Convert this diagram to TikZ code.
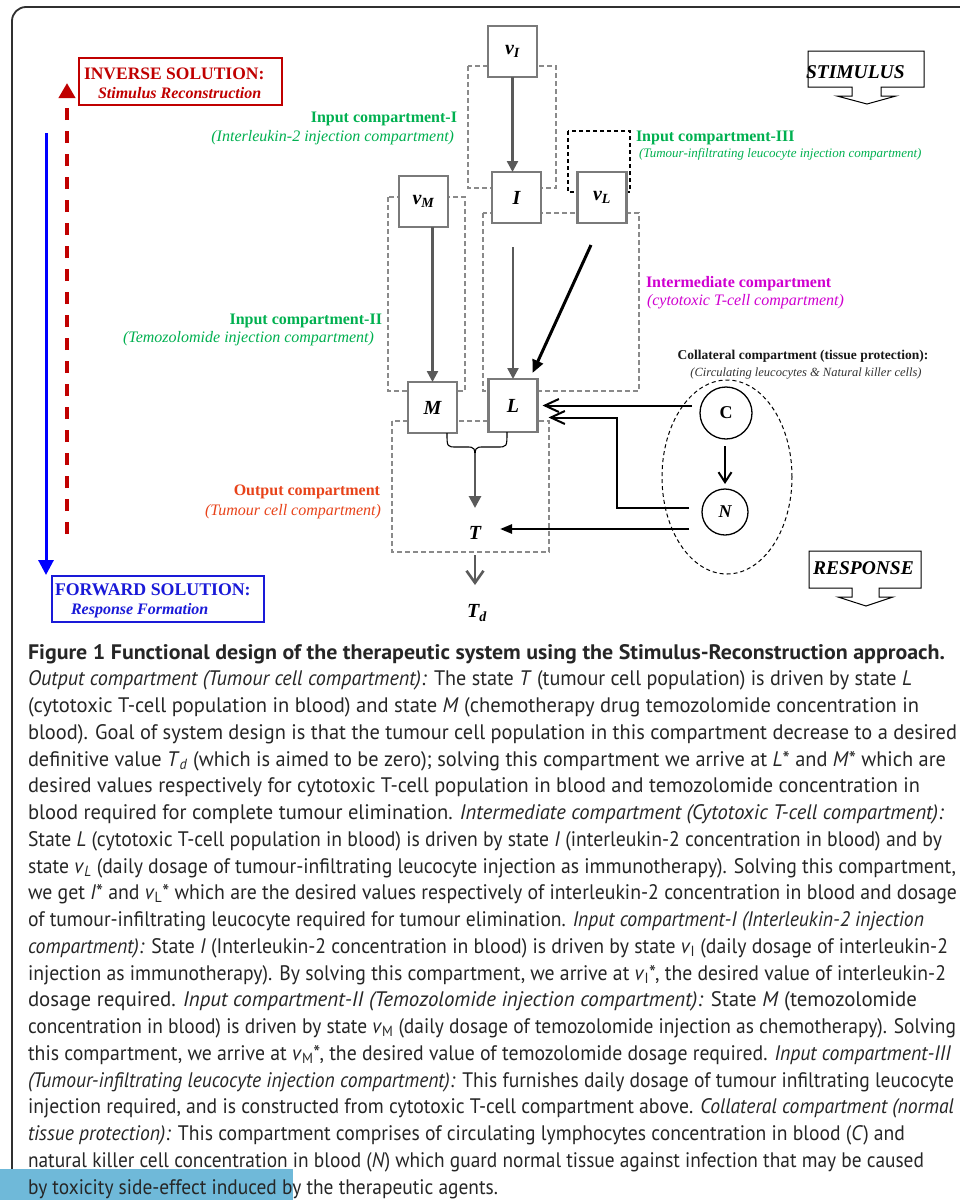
\documentclass[tikz,border=0pt]{standalone}
\usepackage{fontspec}
\usepackage{graphicx}
\setmainfont{Liberation Serif}
\newfontfamily\capfont{PT Sans}
\usetikzlibrary{arrows.meta,calc,shapes.geometric}
\definecolor{cgreen}{HTML}{00B050}
\definecolor{cmag}{HTML}{D000D0}
\definecolor{corange}{HTML}{E8431A}
\definecolor{cred}{HTML}{C00000}
\definecolor{cblue}{HTML}{0000FF}
\definecolor{cblue2}{HTML}{1A1AD8}
\definecolor{boxgray}{HTML}{7A7A7A}
\definecolor{arrgray}{HTML}{5A5A5A}
\definecolor{dashgray}{HTML}{8A8A8A}
\definecolor{hl}{HTML}{6FB9D9}
\definecolor{captext}{HTML}{262626}
\definecolor{framec}{HTML}{303030}
\newcommand{\fs}[1]{\fontsize{#1}{#1}\selectfont}
\newcommand{\capline}[3]{\node[capnode] (cap#1) at (28,{659+26.75*(#1-1)}) {\resizebox{#2pt}{\height}{#3}};}
\begin{document}
\begin{tikzpicture}[x=1pt,y=-1pt,
  box/.style={draw=boxgray, line width=2.4pt, fill=white, minimum width=49pt, minimum height=51pt, inner sep=0pt, outer sep=0pt, font=\fs{20}\bfseries\itshape},
  comp/.style={draw=dashgray, line width=1.4pt, dash pattern=on 5pt off 3pt},
  garrow/.style={draw=arrgray, line width=2.4pt, -{Triangle[length=11pt,width=11pt]}},
  barrow/.style={draw=black, line width=3pt, -{Triangle[length=13pt,width=11pt]}},
  obarb/.style={draw=black, line width=2pt, -{Straight Barb[length=14pt,width=13pt]}},
  cbarb/.style={draw=black, line width=2pt, -{Straight Barb[length=10pt,width=13pt]}},
  tarrow/.style={draw=black, line width=2.5pt, -{Triangle[length=12pt,width=9pt]}},
  gbarb/.style={draw=arrgray, line width=2.6pt, -{Straight Barb[length=12pt,width=17pt]}},
  lbl/.style={inner sep=0pt, outer sep=0pt},
  capnode/.style={anchor=base west, inner sep=0pt, outer sep=0pt, font=\capfont\fs{21}, text=captext},
  circ/.style={circle, draw=black, line width=1.3pt, inner sep=0pt, outer sep=0pt, fill=white}
]
\useasboundingbox (0,0) rectangle (959,1200);
\fill[white] (0,0) rectangle (959,1200);
% frame
\draw[framec, line width=1.8pt, rounded corners=14pt] (12,1205) -- (12,7) -- (965,7);

% left arrows and boxes
\coordinate (r1) at (67,534);
\coordinate (r2) at (67,83);
\draw[cred, line width=4pt, dash pattern=on 12pt off 11pt, -{Triangle[length=15pt,width=16pt]}] (r1) -- (r2);
\coordinate (b1) at (46,133);
\coordinate (b2) at (46,575);
\draw[cblue, line width=3pt, -{Triangle[length=15pt,width=15pt]}] (b1) -- (b2);
\draw[cred, line width=2pt] (79,58) rectangle (282,105);
\node[lbl, anchor=base west, text=cred, font=\fs{17.5}\bfseries] (inv1) at (84,79) {INVERSE SOLUTION:};
\node[lbl, anchor=base west, text=cred, font=\fs{16}\bfseries\itshape] (inv2) at (98,98.5) {Stimulus Reconstruction};
\draw[cblue2, line width=2pt] (52,576) rectangle (264,622);
\node[lbl, anchor=base west, text=cblue2, font=\fs{17.8}\bfseries] (fw1) at (55,595) {FORWARD SOLUTION:};
\node[lbl, anchor=base west, text=cblue2, font=\fs{16}\bfseries\itshape] (fw2) at (71,614.5) {Response Formation};

% compartments
\draw[comp] (468,66) rectangle (556,188);
\draw[comp] (388,197) rectangle (465,391);
\draw[comp] (483,213) rectangle (639,391);
\draw[comp] (392,421) rectangle (549,552);
\draw[black, line width=1.5pt, dash pattern=on 4pt off 3pt] (568,131) rectangle (630,192);

% state boxes
\node[box] (vI) at (512.5,51.5) {v\textsubscript{I}};
\node[box] (I) at (516.5,197.5) {I};
\node[box] (vL) at (602,197.5) {v\textsubscript{L}};
\node[box] (vM) at (423.5,201.5) {v\textsubscript{M}};
\node[box] (M) at (432.5,407.5) {M};
\node[box, minimum height=53pt] (L) at (513,405.5) {L};
\node[lbl, font=\fs{20}\bfseries\itshape] (T) at (475,533) {T};
\node[lbl, font=\fs{20}\bfseries\itshape] (Td) at (477,613) {T\textsubscript{d}};

% arrows in main column
\draw[garrow] (vI.south) -- (vI.south |- I.north);
\draw[garrow] ($(L.north |- I.south)+(0,24)$) -- (L.north);
\draw[garrow] (M.north |- vM.south) -- (M.north);
\draw[barrow] ($(vL.south)+(-11,22)$) -- ($(L.north east)+(-5,-6)$);
\coordinate (bt) at (475,462);
\draw[black, line width=1.1pt] ($(M.south east)+(-10,0)$) .. controls (447,447) .. (457,447) -- (466,447) .. controls (475,447) .. (bt) .. controls (475,447) .. (484,447) -- (497,447) .. controls (507,447) .. ($(L.south)+(-6,0)$);
\draw[garrow, line width=2.8pt, -{Triangle[length=12pt,width=12pt]}] (bt) -- ($(T.center)+(0,-25)$);
\draw[gbarb] ($(T.center)+(0,22)$) -- ($(Td.center)+(-2,-28)$);

% collateral compartment
\node[ellipse, draw=black, line width=1pt, dash pattern=on 4pt off 3pt, minimum width=130pt, minimum height=194pt, inner sep=0pt] (coll) at (727,477) {};
\node[circ, minimum size=52pt, font=\fs{18}\bfseries] (C) at (726,413) {C};
\node[circ, minimum size=46pt, font=\fs{18}\bfseries\itshape] (N) at (725,512) {N};
\draw[cbarb] ($(N.north |- C.south)+(0,7)$) -- ($(N.north)+(0,-5)$);
\draw[obarb] ($(L.east -| C.west)+(-8,0)$) -- ($(L.east)+(5,0)$);
\draw[obarb] ($(N.west)+(-13,-4)$) -- ++(-72,0) |- ($(L.east)+(11,12)$);
\draw[tarrow] ($(N.west)+(-13,17)$) -- ($(T.center)+(25,-4)$);

% compartment labels
\node[lbl, anchor=base east, text=cgreen, font=\fs{16}\bfseries] (l1a) at (457,122.5) {Input compartment-I};
\node[lbl, anchor=base east, text=cgreen, font=\fs{16}\itshape] (l1b) at (454,141.5) {(Interleukin-2 injection compartment)};
\node[lbl, anchor=base east, text=cgreen, font=\fs{16}\bfseries] (l2a) at (382,324.5) {Input compartment-II};
\node[lbl, anchor=base east, text=cgreen, font=\fs{16}\itshape] (l2b) at (374,342.5) {(Temozolomide injection compartment)};
\node[lbl, anchor=base west, text=cgreen, font=\fs{16}\bfseries] (l3a) at (636,141.5) {Input compartment-III};
\node[lbl, anchor=base west, text=cgreen, font=\fs{13}\itshape] (l3b) at (639,157.5) {(Tumour-infiltrating leucocyte injection compartment)};
\node[lbl, anchor=base west, text=cmag, font=\fs{16}\bfseries] (l4a) at (646,287.5) {Intermediate compartment};
\node[lbl, anchor=base west, text=cmag, font=\fs{16}\itshape] (l4b) at (647,305.5) {(cytotoxic T-cell compartment)};
\node[lbl, anchor=base east, text=corange, font=\fs{16}\bfseries] (l5a) at (380,495.5) {Output compartment};
\node[lbl, anchor=base east, text=corange, font=\fs{16}\itshape] (l5b) at (381,515.5) {(Tumour cell compartment)};
\node[lbl, anchor=base, text=black!90, font=\fs{13.5}\bfseries] (l6a) at (803,359.5) {Collateral compartment (tissue protection):};
\node[lbl, anchor=base, text=black!80, font=\fs{12.5}\itshape] (l6b) at (806,376) {(Circulating leucocytes \& Natural killer cells)};

% stimulus / response block arrows
\draw[black, line width=1pt] (808,51) -- (924,51) -- (924,87) -- (881,87) -- (881,96) -- (896,96) -- (867,104) -- (837,96) -- (852,96) -- (852,87) -- (808,87) -- cycle;
\node[lbl, anchor=base west, font=\fs{19.5}\bfseries\itshape] (stim) at (806,78.5) {STIMULUS};
\draw[black, line width=1pt] (809,551) -- (921,551) -- (921,588) -- (879,588) -- (879,597) -- (893,597) -- (866,606) -- (838,597) -- (852,597) -- (852,588) -- (809,588) -- cycle;
\node[lbl, anchor=base west, font=\fs{19.5}\bfseries\itshape] (resp) at (813,574.5) {RESPONSE};

% caption
\fill[hl] (0,1169) rectangle (293,1200);
\capline{1}{917}{\textbf{Figure 1 Functional design of the therapeutic system using the Stimulus-Reconstruction approach.}}
\capline{2}{884}{\textit{Output compartment (Tumour cell compartment):} The state \textit{T} (tumour cell population) is driven by state \textit{L}}
\capline{3}{891}{(cytotoxic T-cell population in blood) and state \textit{M} (chemotherapy drug temozolomide concentration in}
\capline{4}{929}{blood). Goal of system design is that the tumour cell population in this compartment decrease to a desired}
\capline{5}{918}{definitive value \textit{T}\textsubscript{\textit{d}} (which is aimed to be zero); solving this compartment we arrive at \textit{L}* and \textit{M}* which are}
\capline{6}{892}{desired values respectively for cytotoxic T-cell population in blood and temozolomide concentration in}
\capline{7}{916}{blood required for complete tumour elimination. \textit{Intermediate compartment (Cytotoxic T-cell compartment):}}
\capline{8}{914}{State \textit{L} (cytotoxic T-cell population in blood) is driven by state \textit{I} (interleukin-2 concentration in blood) and by}
\capline{9}{928}{state \textit{v}\textsubscript{\textit{L}} (daily dosage of tumour-infiltrating leucocyte injection as immunotherapy). Solving this compartment,}
\capline{10}{929}{we get \textit{I}* and \textit{v}\textsubscript{L}* which are the desired values respectively of interleukin-2 concentration in blood and dosage}
\capline{11}{896}{of tumour-infiltrating leucocyte required for tumour elimination. \textit{Input compartment-I (Interleukin-2 injection}}
\capline{12}{920}{\textit{compartment):} State \textit{I} (Interleukin-2 concentration in blood) is driven by state \textit{v}\textsubscript{I} (daily dosage of interleukin-2}
\capline{13}{918}{injection as immunotherapy). By solving this compartment, we arrive at \textit{v}\textsubscript{I}*, the desired value of interleukin-2}
\capline{14}{889}{dosage required. \textit{Input compartment-II (Temozolomide injection compartment):} State \textit{M} (temozolomide}
\capline{15}{928}{concentration in blood) is driven by state \textit{v}\textsubscript{M} (daily dosage of temozolomide injection as chemotherapy). Solving}
\capline{16}{923}{this compartment, we arrive at \textit{v}\textsubscript{M}*, the desired value of temozolomide dosage required. \textit{Input compartment-III}}
\capline{17}{926}{\textit{(Tumour-infiltrating leucocyte injection compartment):} This furnishes daily dosage of tumour infiltrating leucocyte}
\capline{18}{926}{injection required, and is constructed from cytotoxic T-cell compartment above. \textit{Collateral compartment (normal}}
\capline{19}{877}{\textit{tissue protection):} This compartment comprises of circulating lymphocytes concentration in blood (\textit{C}) and}
\capline{20}{896}{natural killer cell concentration in blood (\textit{N}) which guard normal tissue against infection that may be caused}
\capline{21}{470}{by toxicity side-effect induced by the therapeutic agents.}
\end{tikzpicture}
\end{document}
